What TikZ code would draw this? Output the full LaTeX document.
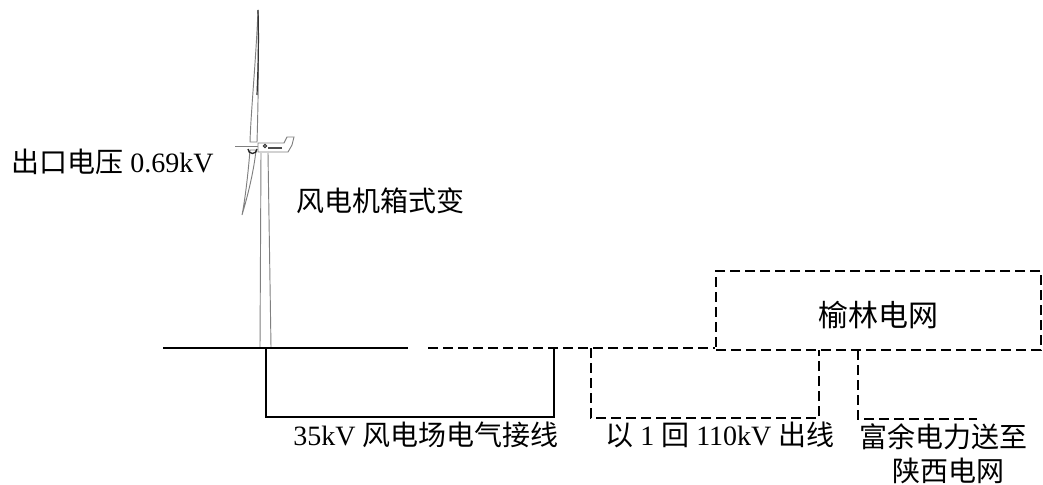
\documentclass[tikz,border=0pt]{standalone}
\usepackage{fontspec}
\setmainfont{Liberation Serif}
\newfontfamily\cjk{Noto Sans CJK SC}
\newcommand\zh[1]{{\cjk #1}}
\begin{document}
\begin{tikzpicture}[x=0.75pt,y=-0.75pt,
  label/.style={inner sep=0pt,font=\fontsize{21}{25}\selectfont},
  wire/.style={line width=1.3pt,black},
  dashwire/.style={line width=1.3pt,black,dash pattern=on 7.5pt off 3.75pt},
  turb/.style={line width=0.7pt,black!50},
  gridbox/.style={draw,line width=1.3pt,dash pattern=on 7.5pt off 3.75pt,
    minimum width=243.75pt,minimum height=59.25pt,inner sep=0pt}]
\useasboundingbox (0,0) rectangle (1043,485);

% --- wind turbine ---
% tower
\draw[turb] (261,153) -- (260,347);
\draw[turb] (268,153) -- (271,347);
% upper blade
\draw[turb,fill=white] (258,10) .. controls (256,60) and (251,110) .. (250,142)
  -- (257,142) .. controls (258,110) and (259,60) .. (258,10) -- cycle;
\draw[line width=0.9pt,black!80] (258,10) .. controls (259,45) and (258,70) .. (257,95);
% lower blade
\draw[turb,fill=white] (250,150) .. controls (248,175) and (245,200) .. (242,215)
  .. controls (248,195) and (254,170) .. (256,150) -- cycle;
% rotor axis and hub
\draw[turb] (235,146) -- (262,146);
\draw[line width=1pt,black!85] (248,149) arc[start angle=180,end angle=0,radius=4.5];
% nacelle with tail fin
\draw[turb,fill=white] (258,143) -- (284,143) -- (287,137) -- (294,137) -- (292,145)
  -- (288,152) -- (258,152) -- cycle;
\draw[line width=0.8pt,black!80] (265,146) circle[radius=1.6];
\draw[line width=1pt,black!70] (268,148) -- (282,148);

% --- ground line ---
\coordinate (gl) at (163,348);
\coordinate (gr) at (408,348);
\draw[line width=1.3pt] (gl) -- (gr);

% --- grid box ---
\node[gridbox] (yl) at (878.5,310.5) {};
\node[label,font=\fontsize{22.5}{26}\selectfont] (yltext) at (878,315) {\zh{榆林电网}};

% --- 35 kV collector wiring ---
\coordinate (foot) at (266,348);
\coordinate (jn) at (554,348);
\coordinate (ds) at (428,348);
\draw[wire] (foot) |- (554,417) -- (jn);
\draw[dashwire] (ds) -- (yl.west |- jn);

% --- 110 kV outgoing line ---
\coordinate (oa) at (591,348);
\coordinate (ob) at (819,350);
\draw[dashwire] (oa) |- (819,418) -- (ob);

% --- surplus power to Shaanxi grid ---
\coordinate (sa) at (858,350);
\coordinate (sb) at (977,419);
\draw[dashwire] (sa) |- (sb);

% --- labels ---
\node[label,anchor=west] (vout) at (11,162) {\zh{出口电压} 0.69kV};
\node[label,anchor=west] (box) at (296,201) {\zh{风电机箱式变}};
\node[label,anchor=west] (l35) at (293,435) {35kV \zh{风电场电气接线}};
\node[label,anchor=west] (l110) at (605,435) {\zh{以} 1 \zh{回} 110kV \zh{出线}};
\node[label] (lsx1) at (943,437) {\zh{富余电力送至}};
\node[label] (lsx2) at (948,471) {\zh{陕西电网}};
\end{tikzpicture}
\end{document}
